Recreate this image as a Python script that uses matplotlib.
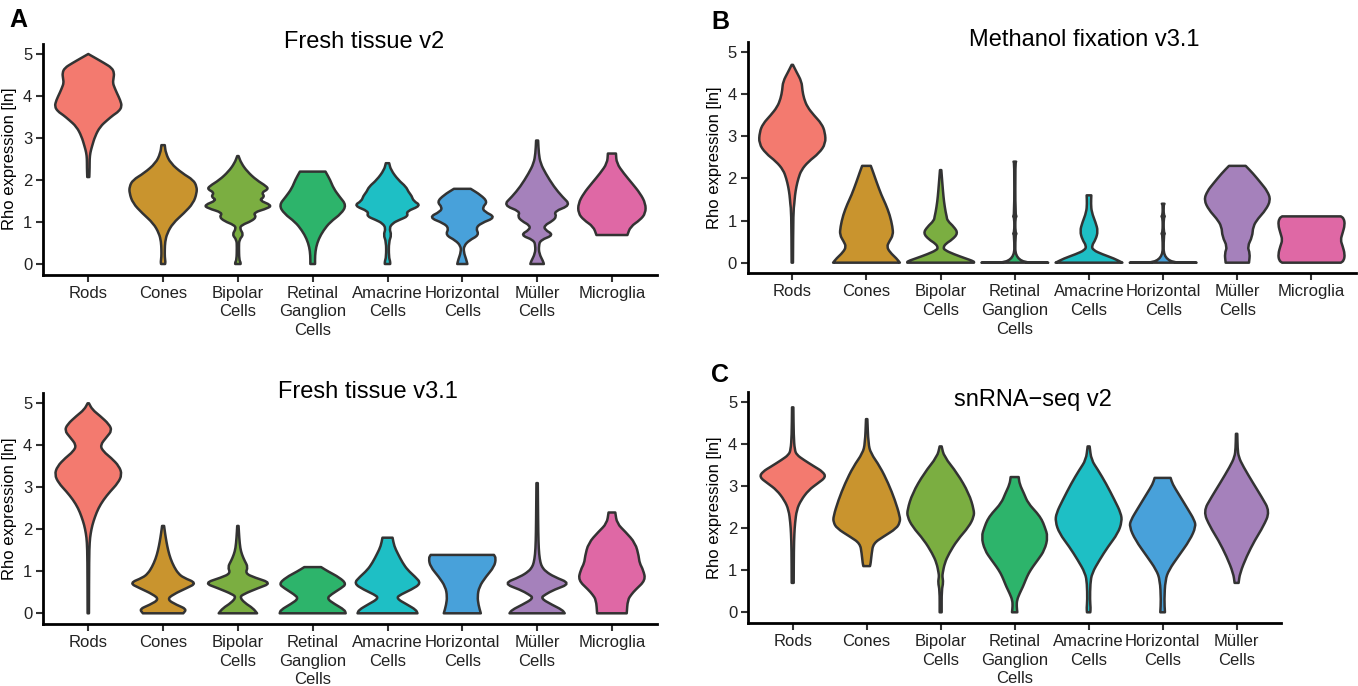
#!/usr/bin/env python

import matplotlib.pyplot as plt
import numpy as np
from matplotlib.path import Path
from matplotlib.patches import PathPatch

cell_types = [
    "Rods",
    "Cones",
    "Bipolar\nCells",
    "Retinal\nGanglion\nCells",
    "Amacrine\nCells",
    "Horizontal\nCells",
    "Müller\nCells",
    "Microglia",
]
colors = ["#F37A6F", "#C9942E", "#7BAE41", "#2DB46B",
          "#1EBFC5", "#48A1DA", "#A581BB", "#DF68A5"]

# violin outlines: (expression, relative half width) from bottom to top

# A - fresh tissue v2
fresh_v2 = [
    [(2.07, 0.03), (2.3, 0.04), (2.5, 0.04), (2.65, 0.06), (2.8, 0.11), (3.04, 0.2),
     (3.27, 0.35), (3.43, 0.57), (3.55, 0.75), (3.63, 0.9), (3.75, 1.0), (3.9, 0.95),
     (4.07, 0.85), (4.2, 0.78), (4.31, 0.73), (4.42, 0.75), (4.55, 0.77), (4.67, 0.7),
     (4.78, 0.48), (4.9, 0.22), (5.0, 0.0)],
    [(0, 0.06), (0.05, 0.07), (0.17, 0.05), (0.33, 0.05), (0.53, 0.06), (0.73, 0.12),
     (0.97, 0.29), (1.21, 0.62), (1.45, 0.9), (1.69, 1.0), (1.84, 1.0), (2.0, 0.9),
     (2.16, 0.57), (2.4, 0.22), (2.64, 0.08), (2.83, 0.05)],
    [(0, 0.08), (0.04, 0.08), (0.1, 0.04), (0.4, 0.03), (0.58, 0.04), (0.7, 0.17),
     (0.85, 0.05), (0.93, 0.12), (1.02, 0.4), (1.12, 0.55), (1.22, 0.45), (1.33, 0.9),
     (1.4, 1.0), (1.52, 0.62), (1.6, 0.8), (1.7, 0.7), (1.78, 0.9), (1.85, 0.85),
     (2.0, 0.55), (2.2, 0.28), (2.4, 0.1), (2.57, 0.02)],
    [(0, 0.07), (0.2, 0.07), (0.4, 0.1), (0.6, 0.18), (0.8, 0.32), (1.0, 0.52),
     (1.2, 0.85), (1.4, 1.0), (1.6, 0.8), (1.8, 0.62), (2.0, 0.52), (2.2, 0.38)],
    [(0, 0.08), (0.06, 0.08), (0.17, 0.04), (0.53, 0.04), (0.69, 0.12), (0.85, 0.05),
     (0.97, 0.15), (1.05, 0.35), (1.14, 0.62), (1.25, 0.55), (1.39, 1.0), (1.5, 0.77),
     (1.62, 0.72), (1.72, 0.62), (1.84, 0.55), (2.0, 0.32), (2.24, 0.1), (2.4, 0.05)],
    [(0, 0.15), (0.1, 0.12), (0.29, 0.04), (0.43, 0.05), (0.56, 0.2), (0.69, 0.5),
     (0.85, 0.4), (0.97, 0.55), (1.11, 1.0), (1.25, 0.65), (1.35, 0.6), (1.48, 0.75),
     (1.64, 0.55), (1.79, 0.25)],
    [(0, 0.2), (0.06, 0.18), (0.25, 0.06), (0.43, 0.05), (0.57, 0.1), (0.69, 0.5),
     (0.82, 0.22), (0.92, 0.22), (1.02, 0.45), (1.13, 0.58), (1.25, 0.5), (1.4, 1.0),
     (1.6, 0.75), (1.84, 0.5), (2.16, 0.25), (2.4, 0.1), (2.63, 0.05), (2.94, 0.03)],
    [(0.69, 0.46), (0.89, 0.55), (1.05, 0.84), (1.21, 1.0), (1.44, 1.0), (1.68, 0.84),
     (1.92, 0.6), (2.16, 0.35), (2.4, 0.14), (2.63, 0.12)],
]

# B - methanol fixation v3.1
methanol_v31 = [
    [(0, 0.02), (1.2, 0.03), (1.4, 0.06), (1.6, 0.08), (1.8, 0.12), (2.0, 0.18),
     (2.2, 0.27), (2.4, 0.48), (2.6, 0.8), (2.83, 1.0), (3.1, 0.98), (3.3, 0.88),
     (3.5, 0.65), (3.7, 0.45), (3.9, 0.35), (4.1, 0.3), (4.3, 0.28), (4.54, 0.12),
     (4.7, 0.02)],
    [(0, 1.0), (0.1, 0.9), (0.25, 0.7), (0.38, 0.61), (0.5, 0.68), (0.66, 0.8),
     (0.85, 0.78), (1.13, 0.7), (1.4, 0.57), (1.6, 0.45), (1.92, 0.3), (2.15, 0.2),
     (2.3, 0.13)],
    [(0, 1.0), (0.03, 1.0), (0.1, 0.75), (0.2, 0.4), (0.3, 0.12), (0.36, 0.08),
     (0.45, 0.15), (0.55, 0.35), (0.7, 0.52), (0.85, 0.4), (1.0, 0.2), (1.1, 0.18),
     (1.2, 0.15), (1.45, 0.1), (1.7, 0.07), (2.0, 0.04), (2.2, 0.02)],
    [(0, 1.0), (0.004, 0.015), (0.66, 0.015), (0.69, 0.06), (0.72, 0.015),
     (1.07, 0.015), (1.1, 0.06), (1.13, 0.015), (2.38, 0.015), (2.4, 0.04)],
    [(0, 1.0), (0.1, 0.75), (0.2, 0.4), (0.3, 0.12), (0.4, 0.08), (0.55, 0.2),
     (0.75, 0.27), (0.95, 0.2), (1.2, 0.08), (1.4, 0.06), (1.6, 0.07)],
    [(0, 1.0), (0.004, 0.015), (0.66, 0.015), (0.69, 0.06), (0.72, 0.015),
     (1.07, 0.015), (1.1, 0.06), (1.13, 0.015), (1.38, 0.015), (1.4, 0.04)],
    [(0, 0.35), (0.22, 0.38), (0.38, 0.3), (0.62, 0.45), (0.86, 0.47), (1.05, 0.62),
     (1.25, 0.85), (1.49, 1.0), (1.7, 0.9), (1.88, 0.72), (2.12, 0.47), (2.3, 0.25)],
    [(0, 0.88), (0.05, 0.97), (0.2, 1.0), (0.4, 0.93), (0.54, 0.87), (0.7, 0.93),
     (0.9, 1.0), (1.05, 0.97), (1.1, 0.88)],
]

# fresh tissue v3.1
fresh_v31 = [
    [(0, 0.02), (1.3, 0.025), (1.7, 0.04), (1.9, 0.07), (2.1, 0.12), (2.3, 0.2),
     (2.5, 0.3), (2.7, 0.45), (2.9, 0.65), (3.1, 0.88), (3.3, 1.0), (3.5, 0.92),
     (3.7, 0.68), (3.85, 0.45), (4.0, 0.35), (4.2, 0.55), (4.35, 0.7), (4.5, 0.62),
     (4.7, 0.35), (4.85, 0.12), (5.0, 0.02)],
    [(0, 0.6), (0.1, 0.7), (0.2, 0.4), (0.33, 0.12), (0.45, 0.3), (0.6, 0.7),
     (0.72, 1.0), (0.85, 0.6), (0.95, 0.45), (1.1, 0.33), (1.3, 0.22), (1.5, 0.15),
     (1.7, 0.1), (1.9, 0.06), (2.08, 0.03)],
    [(0, 0.57), (0.12, 0.45), (0.25, 0.2), (0.38, 0.06), (0.45, 0.15), (0.6, 0.6),
     (0.72, 1.0), (0.85, 0.5), (0.95, 0.22), (1.1, 0.3), (1.25, 0.2), (1.4, 0.12),
     (1.55, 0.07), (1.8, 0.04), (2.08, 0.02)],
    [(0, 0.98), (0.08, 0.95), (0.22, 0.65), (0.35, 0.42), (0.45, 0.55), (0.6, 0.85),
     (0.7, 1.0), (0.85, 0.8), (1.0, 0.45), (1.1, 0.25)],
    [(0, 0.89), (0.08, 0.85), (0.2, 0.6), (0.36, 0.25), (0.45, 0.4), (0.56, 0.7),
     (0.71, 1.0), (0.87, 0.82), (1.03, 0.6), (1.2, 0.45), (1.43, 0.3), (1.6, 0.2),
     (1.8, 0.15)],
    [(0, 0.55), (0.2, 0.48), (0.4, 0.45), (0.63, 0.5), (0.87, 0.7), (1.11, 0.95),
     (1.31, 1.0), (1.39, 0.94)],
    [(0, 0.82), (0.08, 0.75), (0.2, 0.45), (0.36, 0.1), (0.45, 0.25), (0.56, 0.5),
     (0.71, 1.0), (0.87, 0.5), (1.0, 0.25), (1.1, 0.15), (1.2, 0.1), (1.4, 0.06),
     (1.7, 0.04), (2.2, 0.03), (3.1, 0.02)],
    [(0, 0.44), (0.32, 0.47), (0.45, 0.58), (0.56, 0.7), (0.79, 1.0), (1.03, 0.93),
     (1.2, 0.82), (1.35, 0.8), (1.67, 0.7), (1.94, 0.4), (2.14, 0.15), (2.4, 0.1)],
]

# C - snRNA-seq v2 (no microglia)
snrna_v2 = [
    [(0.7, 0.03), (1.5, 0.035), (1.88, 0.05), (2.12, 0.07), (2.44, 0.12), (2.67, 0.25),
     (2.91, 0.48), (3.07, 0.75), (3.22, 1.0), (3.35, 0.9), (3.47, 0.65), (3.63, 0.33),
     (3.75, 0.12), (3.87, 0.06), (4.2, 0.03), (4.88, 0.02)],
    [(1.1, 0.1), (1.17, 0.12), (1.4, 0.15), (1.64, 0.2), (1.8, 0.5), (2.0, 0.9),
     (2.15, 1.0), (2.28, 1.0), (2.67, 0.85), (3.07, 0.65), (3.47, 0.4), (3.79, 0.12),
     (4.02, 0.05), (4.6, 0.02)],
    [(0, 0.03), (0.53, 0.03), (0.71, 0.08), (0.85, 0.05), (0.93, 0.06), (1.17, 0.12),
     (1.4, 0.25), (1.72, 0.5), (2.04, 0.85), (2.28, 1.0), (2.44, 1.0), (2.83, 0.85),
     (3.31, 0.5), (3.71, 0.1), (3.95, 0.03)],
    [(0, 0.08), (0.15, 0.06), (0.29, 0.07), (0.45, 0.15), (0.61, 0.25), (0.77, 0.33),
     (0.93, 0.42), (1.09, 0.55), (1.25, 0.7), (1.48, 0.9), (1.8, 1.0), (2.04, 0.9),
     (2.2, 0.82), (2.36, 0.68), (2.6, 0.4), (2.83, 0.28), (3.05, 0.15), (3.22, 0.12)],
    [(0, 0.05), (0.1, 0.06), (0.29, 0.04), (0.69, 0.05), (0.93, 0.1), (1.25, 0.33),
     (1.56, 0.58), (1.88, 0.88), (2.16, 1.0), (2.36, 0.97), (2.67, 0.78), (3.07, 0.52),
     (3.39, 0.28), (3.63, 0.08), (3.95, 0.03)],
    [(0, 0.07), (0.29, 0.05), (0.77, 0.08), (1.01, 0.19), (1.33, 0.47), (1.72, 0.82),
     (2.04, 1.0), (2.2, 0.95), (2.44, 0.77), (2.83, 0.47), (3.05, 0.3), (3.2, 0.24)],
    [(0.7, 0.06), (0.93, 0.1), (1.33, 0.3), (1.72, 0.55), (2.04, 0.8), (2.4, 1.0),
     (2.75, 0.75), (3.07, 0.5), (3.47, 0.2), (3.7, 0.06), (3.9, 0.03), (4.25, 0.02)],
]

panel_titles = ["Fresh tissue v2", "Methanol fixation v3.1",
                "Fresh tissue v3.1", "snRNA\u2212seq v2"]


def smooth_path(pts):
    # closed outline, rounded with quadratic curves through edge midpoints
    nxt = np.roll(pts, -1, axis=0)
    mids = (pts + nxt) / 2
    verts = [mids[-1]]
    codes = [Path.MOVETO]
    for p, m in zip(pts, mids):
        verts += [p, m]
        codes += [Path.CURVE3, Path.CURVE3]
    verts.append(mids[-1])
    codes.append(Path.CLOSEPOLY)
    return Path(verts, codes)


def outline(center, prof):
    y, w = np.array(prof).T
    half = 0.45 * w
    # doubled end rows keep the flat bottom/top corners crisp
    right = np.column_stack([center + half, y])
    left = np.column_stack([center - half, y])[::-1]
    pts = [right[:1], right, right[-1:], left[:1], left, left[-1:]]
    return np.concatenate(pts)


def draw_violins(ax, profiles):
    for i, prof in enumerate(profiles):
        patch = PathPatch(smooth_path(outline(i + 1, prof)), facecolor=colors[i],
                          edgecolor="#333333", lw=1.8, joinstyle="round", zorder=3)
        ax.add_patch(patch)
    n = len(profiles)
    ax.set_xlim(0.4, n + 0.6)
    ax.set_ylim(-0.25, 5.25)
    ax.set_xticks(range(1, n + 1))
    ax.set_xticklabels(cell_types[:n], fontsize=12, color="#222222",
                       linespacing=1.3)
    ax.set_yticks(range(6))
    ax.set_yticklabels([str(v) for v in range(6)], fontsize=12, color="#222222")
    ax.set_ylabel("Rho expression [ln]", fontsize=12, labelpad=4)
    for s in ["top", "right"]:
        ax.spines[s].set_visible(False)
    for s in ["left", "bottom"]:
        ax.spines[s].set_linewidth(2.0)
        ax.spines[s].set_color("black")
    ax.tick_params(length=5, width=1.5, color="#333333", pad=3)


def main():
    plt.rcParams["font.family"] = ["Liberation Sans", "DejaVu Sans"]
    W, H = 1358, 686
    fig = plt.figure(figsize=(W / 100, H / 100), dpi=100)

    def rect(left, right, bottom, top):
        return [left / W, 1 - bottom / H, (right - left) / W, (bottom - top) / H]

    ax_a = fig.add_axes(rect(43.4, 656.8, 274.5, 43.5))
    ax_b = fig.add_axes(rect(747.8, 1356, 273.2, 41.7))
    ax_d = fig.add_axes(rect(43.4, 656.8, 623.8, 392.8))
    ax_c = fig.add_axes(rect(748.3, 1281, 622.8, 391.8))

    draw_violins(ax_a, fresh_v2)
    draw_violins(ax_b, methanol_v31)
    draw_violins(ax_d, fresh_v31)
    draw_violins(ax_c, snrna_v2)

    # titles and panel letters
    for (x, y), t in zip([(364, 42), (1084, 40), (368, 392), (1033, 400)], panel_titles):
        fig.text(x / W, 1 - y / H, t, fontsize=17, ha="center", va="center")
    for (x, y), t in zip([(18, 20), (720, 22), (720, 375)], ["A", "B", "C"]):
        fig.text(x / W, 1 - y / H, t, fontsize=18, fontweight="bold",
                 ha="center", va="center")

    fig.savefig("out.png", dpi=100)


if __name__ == "__main__":
    main()
